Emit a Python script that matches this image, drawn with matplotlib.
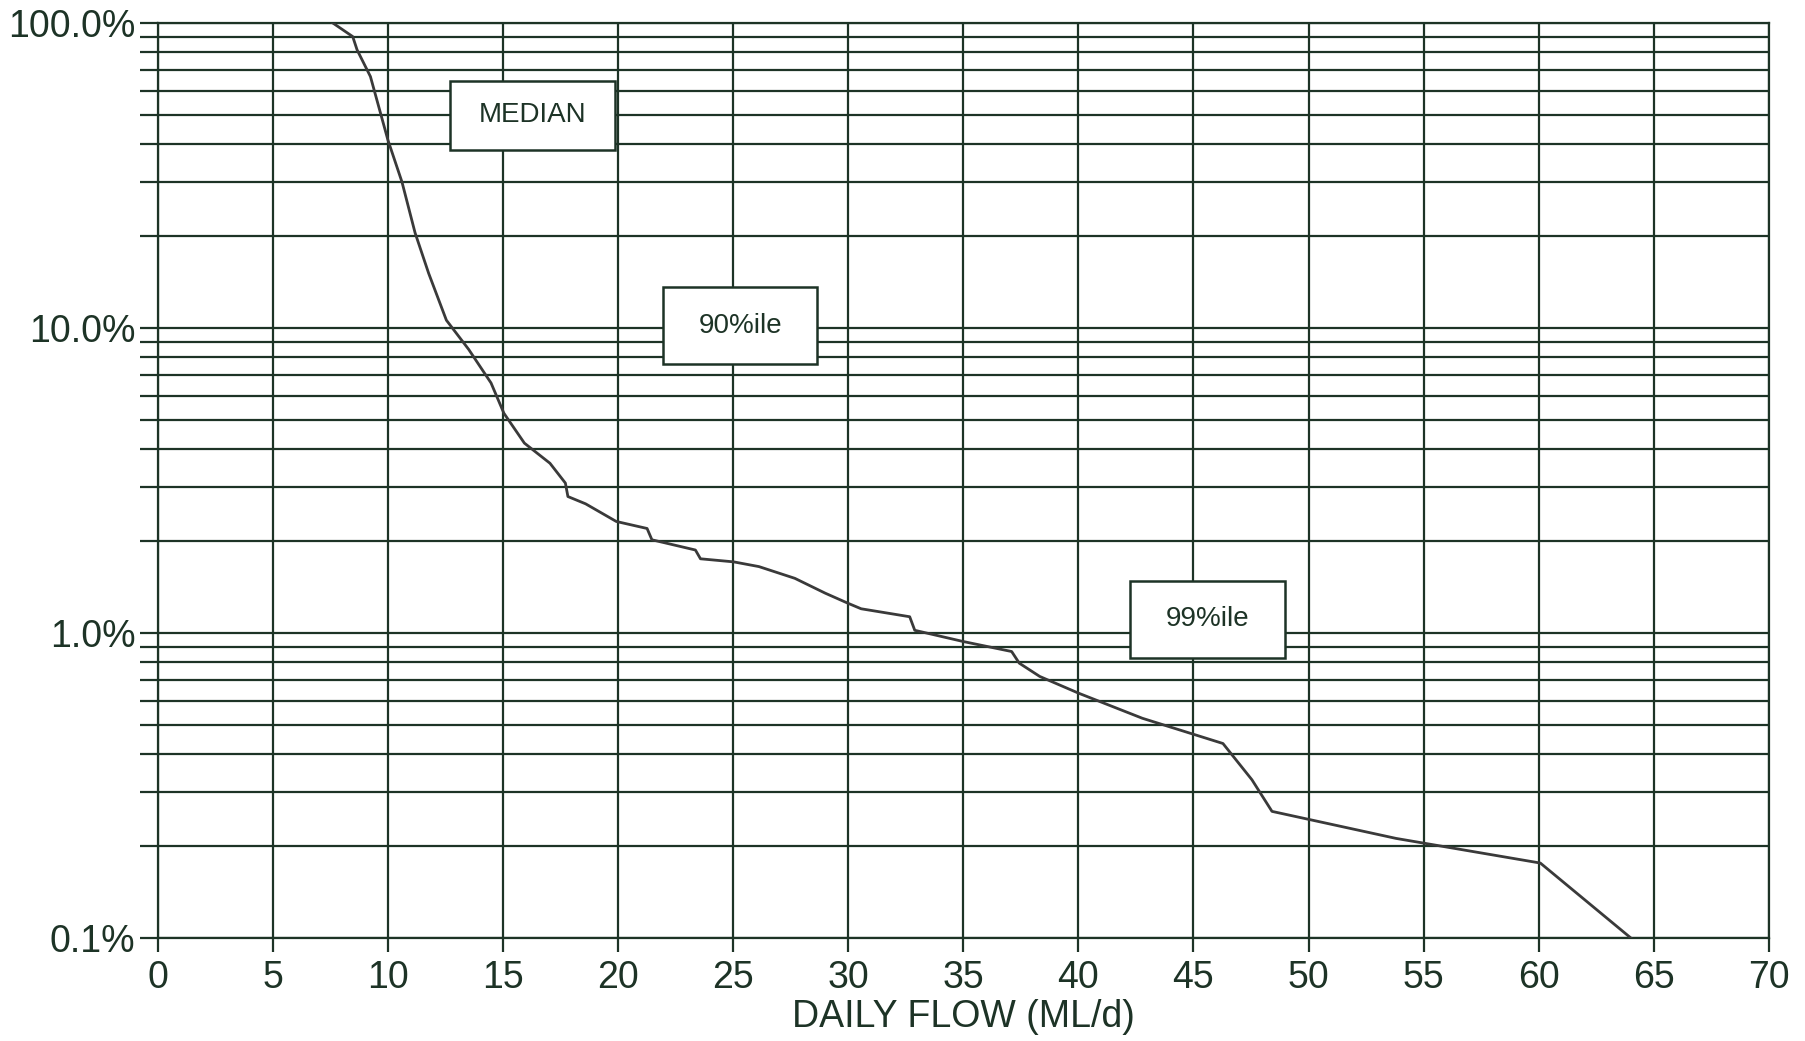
import matplotlib.pyplot as plt
from matplotlib.patches import Rectangle
from matplotlib.ticker import FixedLocator, LogLocator, NullFormatter

plt.rcParams['font.family'] = ['Liberation Sans', 'DejaVu Sans']

# Flow duration curve
flow = [7.6, 8.47, 8.66, 9.24, 10.0, 10.61, 11.18, 11.77, 12.54, 13.51, 14.48,
        15.04, 15.93, 17.04, 17.71, 17.82, 18.59, 19.92, 21.26, 21.47, 23.36,
        23.58, 25.02, 26.12, 27.68, 29.0, 30.0, 30.56, 32.67, 32.89, 35.0,
        37.1, 37.43, 38.32, 40.02, 42.78, 46.28, 47.54, 48.41, 53.8, 60.07, 64.0]
exceed = [100.0, 90.2, 81.6, 66.7, 41.3, 30.1, 20.5, 15.1, 10.6, 8.5, 6.6,
          5.25, 4.19, 3.6, 3.1, 2.8, 2.65, 2.32, 2.2, 2.02, 1.87,
          1.75, 1.71, 1.65, 1.51, 1.35, 1.25, 1.2, 1.13, 1.02, 0.937,
          0.869, 0.796, 0.72, 0.634, 0.525, 0.434, 0.33, 0.26, 0.212, 0.176, 0.1]

x_ticks = list(range(0, 75, 5))
y_ticks = [0.1, 1.0, 10.0, 100.0]
y_labels = ["0.1%", "1.0%", "10.0%", "100.0%"]

box_labels = ["MEDIAN", "90%ile", "99%ile"]

ink = "#1d3326"

fig = plt.figure(figsize=(18.05, 10.41), dpi=100)
ax = fig.add_axes([0.0874, 0.099, 0.8926, 0.879])

ax.plot(flow, exceed, color="#3a3a3a", linewidth=2.0, zorder=3)

ax.set_yscale("log")
ax.set_xlim(0, 70)
ax.set_ylim(0.1, 100)
ax.xaxis.set_major_locator(FixedLocator(x_ticks))
ax.set_xticklabels([str(v) for v in x_ticks])
ax.yaxis.set_major_locator(FixedLocator(y_ticks))
ax.set_yticklabels(y_labels)
ax.yaxis.set_minor_locator(LogLocator(base=10, subs=range(2, 10)))
ax.yaxis.set_minor_formatter(NullFormatter())

ax.grid(True, which="both", color=ink, linewidth=1.6, zorder=1)
for s in ax.spines.values():
    s.set_color(ink)
    s.set_linewidth(1.6)

ax.tick_params(axis="both", which="both", colors=ink, width=1.6, labelsize=27)
ax.tick_params(axis="y", which="both", length=13, pad=3)
ax.tick_params(axis="x", length=10, pad=6)

ax.set_xlabel("DAILY FLOW (ML/d)", fontsize=27, color=ink, labelpad=2)

# label boxes (x0, x1, y0, y1 in data units)
extents = [(12.7, 19.87, 38.4, 64.5), (21.96, 28.64, 7.6, 13.6),
           (42.24, 48.97, 0.83, 1.48)]
for label, (x0, x1, y0, y1) in zip(box_labels, extents):
    ax.add_patch(Rectangle((x0, y0), x1 - x0, y1 - y0, facecolor="white",
                           edgecolor=ink, linewidth=1.8, zorder=4))
    ax.text((x0 + x1) / 2, (y0 * y1) ** 0.5, label, fontsize=20, color=ink,
            ha="center", va="center", zorder=5)

fig.savefig("out.png", dpi=100)
